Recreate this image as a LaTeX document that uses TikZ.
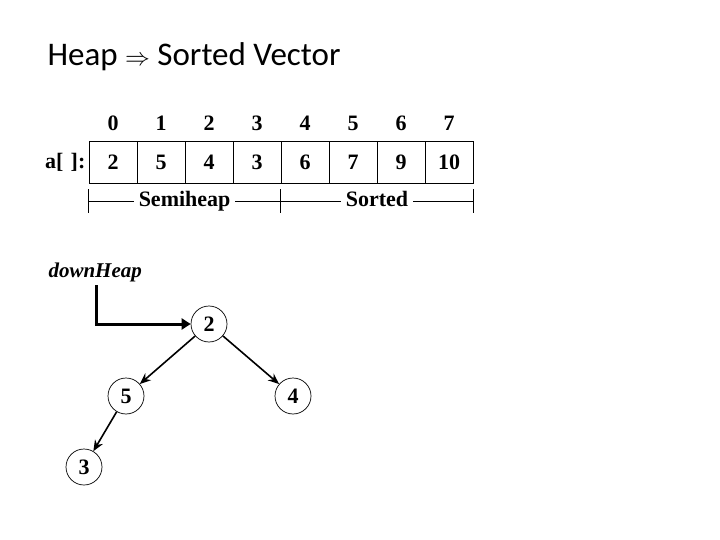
\documentclass[tikz,border=0pt]{standalone}
\usepackage{fontspec}
\setmainfont{Liberation Serif}
\newfontfamily\titlefont{Carlito}
\usetikzlibrary{arrows.meta, positioning, calc}

\begin{document}
\begin{tikzpicture}[x=1pt, y=-1pt,
  cell/.style={draw, line width=0.8pt, minimum width=48pt, minimum height=42pt, inner sep=0pt, font=\fontsize{22}{24}\selectfont\bfseries},
  idx/.style={inner sep=0pt, font=\fontsize{22}{24}\selectfont\bfseries},
  lbl/.style={fill=white, inner xsep=5pt, inner ysep=0pt, text height=15pt, text depth=5pt, font=\fontsize{22}{24}\selectfont\bfseries},
  hnode/.style={circle, draw, line width=0.7pt, minimum size=36pt, inner sep=0pt, font=\fontsize{22}{24}\selectfont\bfseries},
  edge/.style={-{Stealth[length=11pt, width=9pt]}, line width=1.6pt},
  bigarrow/.style={-{Triangle[length=9pt, width=11pt]}, line width=3pt}
]
  \useasboundingbox (0,0) rectangle (720,540);

  \node[anchor=west, font=\titlefont\fontsize{33}{36}\selectfont] (title) at (44,57) {Heap $\Rightarrow$ Sorted Vector};

  % array and indices
  \foreach \v [count=\i from 0] in {2,5,4,3,6,7,9,10} {
    \node[cell] (c\i) at ({113+48*\i},162) {\v};
    \node[idx] (i\i) at ({113+48*\i},123) {\i};
  }
  \node[idx, left=3pt of c0] (alab) {a[\,\,]:};

  % brackets below the array
  \coordinate (b0) at ($(c0.south west)+(0,18)$);
  \coordinate (b4) at ($(c4.south west)+(0,18)$);
  \coordinate (b8) at ($(c7.south east)+(0,18)$);
  \foreach \k in {0,4,8}
    \draw[line width=0.8pt] ($(b\k)+(0,-12)$) -- ($(b\k)+(0,12)$);
  \draw[line width=0.8pt] (b0) -- node[lbl] (semi) {Semiheap} (b4) -- node[lbl] (sorted) {Sorted} (b8);

  % heap tree
  \node[anchor=west, font=\fontsize{21}{23}\selectfont\bfseries\itshape] (dh) at (45,272) {downHeap};
  \node[hnode] (n2) at (209,324) {2};
  \node[hnode] (n5) at (126,396) {5};
  \node[hnode] (n4) at (293,396) {4};
  \node[hnode] (n3) at (84,467) {3};

  \draw[bigarrow] ([xshift=1pt]dh.south) |- (n2);
  \draw[edge] (n2) -- (n5);
  \draw[edge] (n2) -- (n4);
  \draw[edge] (n5) -- (n3);
\end{tikzpicture}
\end{document}
